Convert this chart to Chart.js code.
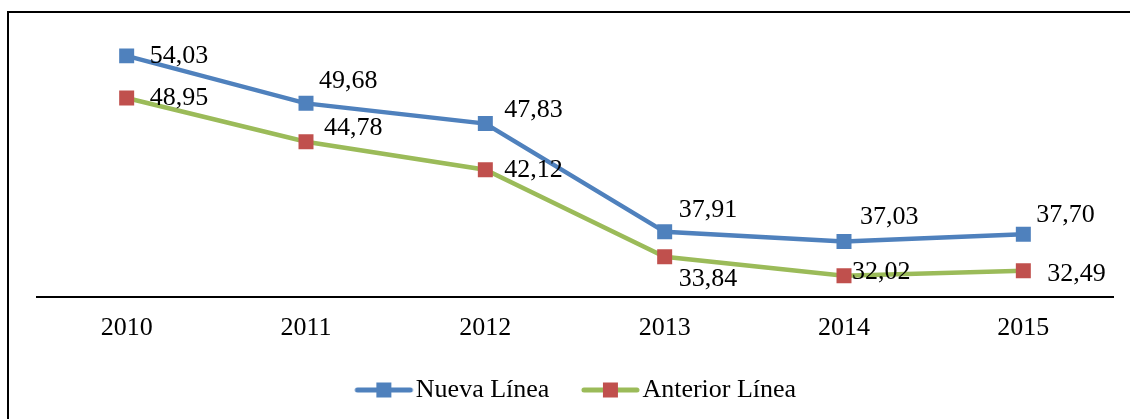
<!DOCTYPE html>
<html>
<head>
<meta charset="utf-8">
<script src="https://cdn.jsdelivr.net/npm/chart.js@4.4.0/dist/chart.umd.min.js"></script>
<style>
  html, body { margin: 0; padding: 0; background: #fff; }
  #wrap { width: 1130px; height: 419px; }
</style>
</head>
<body>
<div id="wrap"><canvas id="myLineChart" width="1130" height="419"></canvas></div>
<script>
const years = ["2010", "2011", "2012", "2013", "2014", "2015"];
const nuevaLinea = [54.03, 49.68, 47.83, 37.91, 37.03, 37.70];
const anteriorLinea = [48.95, 44.78, 42.12, 33.84, 32.02, 32.49];

// where each value label sits next to its point (dx from point to text start, dy to text middle)
const nuevaLabelPos = [[23, 0], [13, -22], [19, -13], [14, -22], [16, -24], [13, -19]];
const anteriorLabelPos = [[23, 0], [18, -14], [19, 0], [14, 22], [8, -4], [24, 3]];

const BLUE = "#4F81BD";
const GREEN = "#9BBB59";
const RED = "#C0504D";
const FONT = "'Liberation Serif', 'Times New Roman', serif";

function legendIcon(lineColor, markColor) {
  // line + square marker; the empty left part keeps the gap between legend items
  var c = document.createElement("canvas");
  c.width = 88;
  c.height = 16;
  var g = c.getContext("2d");
  g.strokeStyle = lineColor;
  g.lineWidth = 5;
  g.lineCap = "round";
  g.beginPath();
  g.moveTo(30, 8);
  g.lineTo(83, 8);
  g.stroke();
  g.fillStyle = markColor;
  g.fillRect(49, 0.5, 15, 15);
  return c;
}

const framePlugin = {
  id: "frame",
  afterLayout: function (chart) {
    // nudge the legend a little left, like the original
    chart.legend.left -= 7;
    chart.legend.right -= 7;
  },
  afterDraw: function (chart) {
    var ctx = chart.ctx;
    ctx.save();
    ctx.strokeStyle = "#000";
    ctx.lineWidth = 2;
    ctx.beginPath();
    ctx.moveTo(8, 419);
    ctx.lineTo(8, 12);
    ctx.lineTo(1130, 12);
    ctx.stroke();
    ctx.restore();
  },
};

const valueLabels = {
  id: "valueLabels",
  afterDatasetsDraw: function (chart) {
    var ctx = chart.ctx;
    var offsets = [nuevaLabelPos, anteriorLabelPos];
    ctx.save();
    ctx.font = "26px " + FONT;
    ctx.fillStyle = "#000";
    ctx.textAlign = "left";
    ctx.textBaseline = "middle";
    chart.data.datasets.forEach(function (ds, i) {
      chart.getDatasetMeta(i).data.forEach(function (pt, j) {
        var txt = ds.data[j].toFixed(2).replace(".", ",");
        ctx.fillText(txt, pt.x + offsets[i][j][0], pt.y + offsets[i][j][1]);
      });
    });
    ctx.restore();
  },
};

var ctx = document.getElementById("myLineChart").getContext("2d");
var myLineChart = new Chart(ctx, {
  type: "line",
  data: {
    labels: years,
    datasets: [
      {
        label: "Nueva Línea",
        data: nuevaLinea,
        borderColor: BLUE,
        backgroundColor: BLUE,
        borderWidth: 4.5,
        pointStyle: "rect",
        pointRadius: 10.6,
        pointBackgroundColor: BLUE,
        pointBorderColor: BLUE,
        pointBorderWidth: 0,
        yAxisID: "y",
        tension: 0,
      },
      {
        label: "Anterior Línea",
        data: anteriorLinea,
        borderColor: GREEN,
        backgroundColor: RED,
        borderWidth: 4.5,
        pointStyle: "rect",
        pointRadius: 10.6,
        pointBackgroundColor: RED,
        pointBorderColor: RED,
        pointBorderWidth: 0,
        yAxisID: "y2",
        tension: 0,
      },
    ],
  },
  options: {
    responsive: false,
    animation: false,
    layout: {
      padding: { left: 37, right: 17, top: 18, bottom: 6 },
    },
    plugins: {
      tooltip: { enabled: false },
      legend: {
        position: "bottom",
        labels: {
          usePointStyle: true,
          pointStyleWidth: 63,
          padding: 17,
          color: "#000",
          font: { family: FONT, size: 26 },
          generateLabels: function (chart) {
            return [
              { text: "Nueva Línea", pointStyle: legendIcon(BLUE, BLUE), datasetIndex: 0, fontColor: "#000" },
              { text: "Anterior Línea", pointStyle: legendIcon(GREEN, RED), datasetIndex: 1, fontColor: "#000" },
            ];
          },
        },
      },
    },
    scales: {
      x: {
        offset: true,
        grid: { display: false, drawTicks: false },
        border: { display: true, color: "#000", width: 2 },
        ticks: {
          color: "#000",
          padding: 16,
          font: { family: FONT, size: 26 },
        },
      },
      y: {
        display: false,
        min: 31.96,
        max: 57.5,
      },
      y2: {
        display: false,
        min: 30.02,
        max: 56.57,
      },
    },
  },
  plugins: [framePlugin, valueLabels],
});
</script>
</body>
</html>
